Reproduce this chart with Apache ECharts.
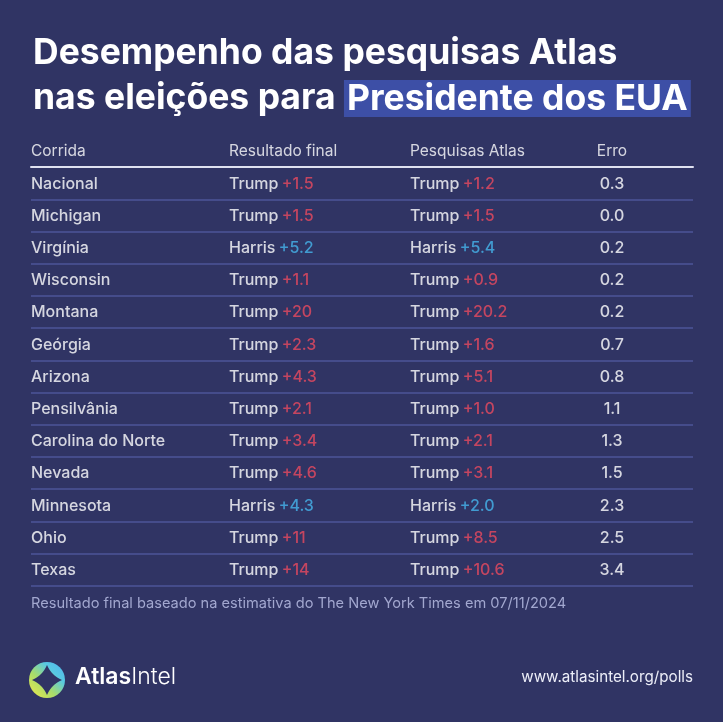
<!DOCTYPE html>
<html><head><meta charset="utf-8">
<script src="https://cdn.jsdelivr.net/npm/echarts@6/dist/echarts.min.js"></script>
<style>html,body{margin:0;padding:0;background:#303464}#c{width:723px;height:722px}</style>
</head><body><div id="c"></div>
<script>
const headers = ['Corrida', 'Resultado final', 'Pesquisas Atlas', 'Erro'];
const races = ['Nacional', 'Michigan', 'Virgínia', 'Wisconsin', 'Montana', 'Geórgia', 'Arizona', 'Pensilvânia', 'Carolina do Norte', 'Nevada', 'Minnesota', 'Ohio', 'Texas'];
const finalWinner = ['Trump', 'Trump', 'Harris', 'Trump', 'Trump', 'Trump', 'Trump', 'Trump', 'Trump', 'Trump', 'Harris', 'Trump', 'Trump'];
const finalMargin = [1.5, 1.5, 5.2, 1.1, 20, 2.3, 4.3, 2.1, 3.4, 4.6, 4.3, 11, 14];
const atlasWinner = ['Trump', 'Trump', 'Harris', 'Trump', 'Trump', 'Trump', 'Trump', 'Trump', 'Trump', 'Trump', 'Harris', 'Trump', 'Trump'];
const atlasMargin = [1.2, 1.5, 5.4, 0.9, 20.2, 1.6, 5.1, 1.0, 2.1, 3.1, 2.0, 8.5, 10.6];
const erro = [0.3, 0.0, 0.2, 0.2, 0.2, 0.7, 0.8, 1.1, 1.3, 1.5, 2.3, 2.5, 3.4];

const FONT = 'Inter, "Noto Sans", sans-serif';
const BG = '#303464';
const RED = '#ea4a5f';
const BLUE = '#46b5ec';
const colOffset = [-82.75, -50.25, -34.75, 1.75];
const colAlign = ['left', 'left', 'left', 'center'];
const rowH = 32.2;

const chart = echarts.init(document.getElementById('c'), null, {renderer: 'canvas'});

function cellText(c, i) {
  if (c === 0) return '{w|' + races[i] + '}';
  if (c === 1) return '{w|' + finalWinner[i] + '} {' + (finalWinner[i] === 'Trump' ? 'r' : 'b') + '|+' + String(finalMargin[i]) + '}';
  if (c === 2) return '{w|' + atlasWinner[i] + '} {' + (atlasWinner[i] === 'Trump' ? 'r' : 'b') + '|+' + atlasMargin[i].toFixed(1) + '}';
  return '{w|' + erro[i].toFixed(1) + '}';
}
const rich = {
  w: {color: '#ffffff', fontSize: 16, fontWeight: 500, fontFamily: FONT},
  r: {color: RED, fontSize: 16, fontWeight: 500, fontFamily: FONT},
  b: {color: BLUE, fontSize: 16, fontWeight: 500, fontFamily: FONT}
};

const bodySeries = headers.map((h, c) => ({
  type: 'scatter',
  xAxisIndex: 1, yAxisIndex: 1,
  symbolSize: 0,
  silent: true,
  data: races.map((r, i) => [c, i]),
  label: {
    show: true, position: 'inside', align: colAlign[c], verticalAlign: 'middle',
    offset: [colOffset[c], 0.5],
    formatter: p => cellText(c, p.dataIndex),
    rich: rich
  }
}));

const headerSeries = {
  type: 'scatter',
  xAxisIndex: 0, yAxisIndex: 0,
  symbolSize: 0,
  silent: true,
  data: headers.map((h, c) => ({
    value: [c, 0],
    label: {align: colAlign[c], offset: [colOffset[c], 0]}
  })),
  label: {
    show: true, position: 'inside', verticalAlign: 'middle',
    color: '#ffffff', fontSize: 15.5, fontWeight: 400, fontFamily: FONT,
    formatter: p => headers[p.dataIndex]
  }
};

const splitColors = races.map((r, i) => i === 0 ? 'rgba(0,0,0,0)' : '#4d5499');
splitColors.push('#4d5499');

// four-point logo star (decoration)
function starPoints(cx, cy, R, k) {
  const pts = [];
  const tips = [[0, -R], [R, 0], [0, R], [-R, 0]];
  for (let s = 0; s < 4; s++) {
    const a = tips[s], b = tips[(s + 1) % 4];
    const ctrl = [(a[0] + b[0]) * k, (a[1] + b[1]) * k];
    for (let t = 0; t < 1; t += 0.1) {
      const x = (1 - t) * (1 - t) * a[0] + 2 * (1 - t) * t * ctrl[0] + t * t * b[0];
      const y = (1 - t) * (1 - t) * a[1] + 2 * (1 - t) * t * ctrl[1] + t * t * b[1];
      pts.push([cx + x, cy + y]);
    }
  }
  return pts;
}

const option = {
  backgroundColor: BG,
  animation: false,
  title: {
    left: 28, top: 26,
    text: '{a|Desempenho das pesquisas Atlas}\n{a|nas eleições para }{h|Presidente dos EUA}',
    textStyle: {
      rich: {
        a: {fontSize: 35.5, fontWeight: 700, color: '#ffffff', fontFamily: FONT, lineHeight: 45},
        h: {fontSize: 35.5, fontWeight: 700, color: '#ffffff', fontFamily: FONT, lineHeight: 45,
            backgroundColor: '#3d4fa6', padding: [1, 3, 0, 3]}
      }
    }
  },
  grid: [
    {left: 31, right: 30, top: 151 - rowH / 2, height: rowH},
    {left: 31, right: 30, top: 151 + rowH / 2, height: rowH * races.length}
  ],
  xAxis: [
    {gridIndex: 0, type: 'category', data: headers, show: false},
    {gridIndex: 1, type: 'category', data: headers, position: 'top',
     axisLine: {show: true, lineStyle: {color: '#dfe1f0', width: 2}},
     axisTick: {show: false}, axisLabel: {show: false}, splitLine: {show: false}}
  ],
  yAxis: [
    {gridIndex: 0, type: 'category', data: ['header'], show: false},
    {gridIndex: 1, type: 'category', data: races, inverse: true,
     axisLine: {show: false}, axisTick: {show: false}, axisLabel: {show: false},
     splitLine: {show: true, lineStyle: {color: splitColors, width: 1.5}}}
  ],
  series: [headerSeries].concat(bodySeries),
  graphic: [
    {type: 'text', left: 31, top: 596, silent: true,
     style: {text: 'Resultado final baseado na estimativa do The New York Times em 07/11/2024',
             fill: '#a2a7cf', fontSize: 14.6, fontFamily: FONT}},
    {type: 'group', left: 29, top: 662, silent: true, children: [
      {type: 'circle', shape: {cx: 18, cy: 18, r: 18},
       style: {fill: new echarts.graphic.LinearGradient(0, 1, 1, 0, [
         {offset: 0, color: '#f2e94a'}, {offset: 0.4, color: '#a8dc6a'}, {offset: 0.7, color: '#58c9e2'}, {offset: 1, color: '#4fb3f0'}])}},
      {type: 'polygon', shape: {points: starPoints(18, 18, 15, 0.3)}, style: {fill: BG}}
    ]},
    {type: 'text', left: 75, top: 666, silent: true,
     style: {text: '{a|Atlas}{b|Intel}', rich: {
       a: {fontSize: 23, fontWeight: 600, fill: '#ffffff', fontFamily: FONT},
       b: {fontSize: 23, fontWeight: 300, fill: '#ffffff', fontFamily: FONT}}}},
    {type: 'text', right: 30, top: 670, silent: true,
     style: {text: 'www.atlasintel.org/polls', fill: '#eceef8', fontSize: 15.2, fontFamily: FONT}}
  ]
};
chart.setOption(option);
</script>
</body></html>
